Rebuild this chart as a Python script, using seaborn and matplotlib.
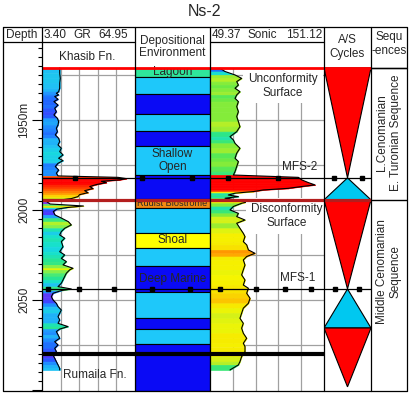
import numpy as np
import matplotlib
matplotlib.use("Agg")
import matplotlib.pyplot as plt
import seaborn as sns
from matplotlib.colors import LinearSegmentedColormap, Normalize
from matplotlib.ticker import MultipleLocator

# ---- data (depth in m) ----
gr_depth = [1921.1, 1924.1, 1926.9, 1929.6, 1932.4, 1934.3, 1935.2, 1936.1, 1937.0, 1938.5,
            1939.8, 1941.7, 1943.5, 1945.4, 1947.2, 1949.1, 1950.9, 1952.8, 1954.6, 1956.5,
            1958.3, 1960.2, 1962.0, 1963.9, 1965.7, 1967.6, 1969.4, 1971.3, 1972.6, 1974.1,
            1975.9, 1977.8, 1979.6, 1981.1, 1981.9, 1982.6, 1983.3, 1984.1, 1984.8, 1985.9,
            1987.0, 1988.1, 1989.3, 1990.4, 1991.5, 1992.6, 1993.7, 1994.4, 1995.4, 1996.7,
            1997.8, 1998.7, 1999.6, 2000.9, 2002.8, 2004.6, 2006.5, 2008.3, 2010.2, 2012.0,
            2013.9, 2015.7, 2017.6, 2020.4, 2023.2, 2025.0, 2026.9, 2028.7, 2030.5, 2032.4,
            2033.3, 2035.2, 2037.0, 2038.9, 2040.7, 2042.6, 2043.9, 2044.8, 2046.3, 2048.2,
            2050.0, 2051.9, 2053.7, 2055.6, 2057.4, 2059.3, 2061.1, 2063.0, 2064.8, 2066.2,
            2067.6, 2069.4, 2071.3, 2073.2, 2075.0, 2076.9, 2078.7, 2080.6, 2082.4, 2084.3,
            2086.1, 2088.0, 2088.9]
gr_value = [15.1, 15.1, 15.5, 15.1, 15.1, 14.4, 12.9, 14.4, 11.8, 14.0,
            11.3, 14.0, 11.8, 12.9, 11.3, 13.6, 14.4, 14.0, 12.9, 13.6,
            12.2, 14.4, 15.1, 14.0, 16.2, 15.1, 17.3, 14.4, 17.3, 14.0,
            12.2, 14.4, 12.9, 14.0, 53.7, 59.2, 54.8, 42.7, 46.0, 39.4,
            35.0, 37.2, 31.6, 33.9, 28.3, 27.2, 22.8, 16.2, 6.5, 8.7,
            30.8, 19.7, 13.1, 10.9, 12.0, 16.4, 20.8, 22.8, 18.4, 16.2,
            15.1, 18.4, 16.2, 17.3, 15.1, 18.4, 16.2, 19.5, 17.3, 23.9,
            21.7, 19.5, 18.4, 17.3, 16.2, 14.0, 22.8, 16.2, 10.7, 9.6,
            10.7, 12.9, 14.0, 16.2, 15.1, 14.0, 15.1, 14.0, 20.6, 15.1,
            12.9, 14.0, 15.1, 11.8, 14.0, 11.8, 12.9, 10.7, 11.8, 12.9,
            14.0, 15.1, 15.1]

sonic_depth = [1921.3, 1923.1, 1925.0, 1926.9, 1928.7, 1930.6, 1932.4, 1934.3, 1936.1, 1938.0,
               1939.8, 1942.6, 1945.4, 1948.1, 1950.9, 1953.7, 1956.5, 1959.3, 1961.1, 1963.0,
               1965.7, 1968.5, 1971.3, 1973.1, 1975.9, 1978.7, 1980.6, 1981.9, 1983.3, 1984.8,
               1986.1, 1987.0, 1988.0, 1988.9, 1989.8, 1990.7, 1991.7, 1992.6, 1993.5, 1995.4,
               1996.3, 1998.1, 2000.0, 2001.9, 2003.7, 2005.6, 2007.4, 2010.2, 2013.0, 2014.8,
               2017.6, 2019.4, 2022.2, 2024.1, 2025.9, 2027.8, 2030.6, 2033.3, 2036.1, 2038.9,
               2041.7, 2043.5, 2046.3, 2049.1, 2051.9, 2054.6, 2057.4, 2060.2, 2063.0, 2065.7,
               2068.5, 2071.3, 2074.1, 2075.9, 2078.7, 2081.5, 2084.3, 2086.1, 2088.9]
sonic_value = [58.3, 62.8, 71.7, 77.6, 73.2, 74.7, 71.7, 76.1, 73.2, 71.7,
               74.7, 73.2, 74.7, 73.2, 74.7, 76.1, 73.2, 67.2, 70.2, 71.7,
               76.1, 73.2, 71.7, 74.7, 73.2, 71.7, 70.2, 128.2, 131.2, 137.1,
               143.1, 131.2, 119.3, 97.0, 88.0, 71.7, 65.7, 74.7, 62.8, 83.6,
               77.6, 70.2, 67.2, 74.7, 73.2, 80.6, 73.2, 76.1, 79.1, 80.6,
               79.1, 82.1, 83.6, 89.5, 82.1, 79.1, 80.6, 79.1, 77.6, 80.6,
               79.1, 83.6, 82.1, 85.1, 83.6, 79.1, 77.6, 76.1, 79.1, 77.6,
               79.1, 82.1, 79.1, 80.6, 80.6, 77.6, 76.1, 74.7, 67.2]

GR_MIN, GR_MAX = 3.40, 64.95
SONIC_MIN, SONIC_MAX = 49.37, 151.12

# depositional environment column
env_top = [1921.1, 1926.1, 1935.6, 1946.7, 1956.1, 1964.4, 1980.6, 1993.9, 1998.9,
           2012.8, 2021.1, 2031.1, 2045.6, 2060.0, 2066.1, 2074.4]
env_base = env_top[1:] + [2100.6]
env_facies = ['lagoon', 'shallow', 'deep', 'shallow', 'deep', 'shallow', 'deep', 'rudist',
              'shallow', 'shoal', 'shallow', 'deep', 'shallow', 'deep', 'shallow', 'deep']
env_label = ['Lagoon', '', '', '', '', 'Shallow\nOpen', '', 'Rudist Biostrome',
             '', 'Shoal', '', 'Deep Marine', '', '', '', '']
facies_colors = {'lagoon': '#2fe69b', 'shallow': '#1ec8fa', 'deep': '#0a0af5',
                 'rudist': '#f28a12', 'shoal': '#ffff00'}

# A/S cycles
as_top = [1921.1, 1982.2, 1994.4, 2043.9, 2065.6]
as_base = [1982.2, 1994.4, 2043.9, 2065.6, 2098.3]
as_phase = ['fall', 'rise', 'fall', 'rise', 'fall']

# surfaces
UNCONFORMITY = 1921.1
MFS2 = 1982.2
DISCONFORMITY = 1994.4
MFS1 = 2043.9
RUMAILA_TOP = 2080.0

seq_bounds = [1921.1, 1994.4, 2100.6]
seq_names = ['L.Cenomanian\nE. Turonian Sequence', 'Middle Cenomanian\nSequence']
seq_label_depth = [1957.0, 2034.0]

depth_marks = [1950, 2000, 2050]
depth_marks_text = ['1950m', '2000', '2050']
grid_depths = [1925, 1950, 1975, 2000, 2025, 2050, 2075]

DEPTH_TOP, DEPTH_BASE = 1906.7, 2100.6

# ---- figure ----
W, H = 410, 395
sns.set_theme(style='white')
plt.rcParams['font.family'] = ['Liberation Sans', 'DejaVu Sans']
fig = plt.figure(figsize=(W / 100, H / 100), dpi=100)
fig.patch.set_facecolor('white')

# column edges in pixels
X_DEPTH, X_GR, X_ENV, X_SON, X_AS, X_SEQ, X_END = 3, 42, 135, 210, 324, 371, 407
Y_TOP, Y_SCALE, Y_HEAD, Y_BOT = 27, 42, 68, 391


def track(x0, x1, zorder=1):
    ax = fig.add_axes([x0 / W, 1 - Y_BOT / H, (x1 - x0) / W, (Y_BOT - Y_SCALE) / H], zorder=zorder)
    ax.set_ylim(DEPTH_BASE, DEPTH_TOP)
    ax.patch.set_alpha(0)
    for s in ax.spines.values():
        s.set_visible(False)
    return ax


def make_cmap(stops, lo, hi):
    return LinearSegmentedColormap.from_list(
        'log', [((v - lo) / (hi - lo), c) for v, c in stops]), Normalize(lo, hi)


gr_cmap, gr_norm = make_cmap([(8, '#7d3cf0'), (11.5, '#4a3cff'), (12.5, '#2060ff'), (13.5, '#1e90ff'),
                              (15, '#20c0f5'), (16.5, '#14e0d8'), (18, '#28e68c'), (20.5, '#7ef050'),
                              (23, '#e8f500'), (28, '#ffd000'), (33, '#ff7800'), (39, '#ff0000')], 8, 39)
son_cmap, son_norm = make_cmap([(58, '#2828ff'), (62, '#14a0ff'), (66, '#14dcf0'), (70, '#28e68c'),
                                (73, '#64ea46'), (76, '#c8f020'), (79, '#f5f500'), (83, '#f8e000'),
                                (85.5, '#ffb000'), (89, '#ff6000'), (95, '#ff0000')], 58, 95)


def log_track(ax, depth, value, lo, hi, cmap, norm):
    ax.set_xlim(lo, hi)
    xs = np.linspace(lo, hi, 6)[1:-1]
    ax.vlines(xs, UNCONFORMITY, DEPTH_BASE, color='#a0a0a0', lw=0.9, zorder=1)
    ax.hlines(grid_depths, lo, hi, color='#a0a0a0', lw=0.9, zorder=1)
    for i in range(len(depth) - 1):
        c = cmap(norm((value[i] + value[i + 1]) / 2))
        ax.fill_betweenx(depth[i:i + 2], lo, value[i:i + 2], color=c, lw=0.5, zorder=2)
    sns.lineplot(x=value, y=depth, orient='y', sort=False, estimator=None,
                 color='black', lw=0.8, ax=ax, zorder=3)
    ax.set_xlabel('')
    ax.set_ylabel('')
    ax.set_xticks([])
    ax.set_yticks([])
    ax.set_ylim(DEPTH_BASE, DEPTH_TOP)


# depth track
ax_d = track(X_DEPTH, X_GR)
ax_d.set_xlim(0, 1)
ax_d.yaxis.set_major_locator(MultipleLocator(50))
ax_d.yaxis.set_minor_locator(MultipleLocator(5))
ax_d.tick_params(axis='y', which='both', direction='in', right=True, left=False,
                 labelleft=False, labelright=False, color='black', width=0.8)
ax_d.tick_params(axis='y', which='major', length=7.5)
ax_d.tick_params(axis='y', which='minor', length=3)
ax_d.set_xticks([])
for d, t in zip(depth_marks, depth_marks_text):
    ax_d.text(0.54, d, t, rotation=90, ha='center', va='center', fontsize=8.5)
ax_d.set_ylim(DEPTH_BASE, DEPTH_TOP)

# GR track
ax_gr = track(X_GR, X_ENV)
log_track(ax_gr, gr_depth, gr_value, GR_MIN, GR_MAX, gr_cmap, gr_norm)
ax_gr.text(0.49, 1915.0, 'Khasib Fn.', transform=ax_gr.get_yaxis_transform(), ha='center',
           va='center', fontsize=8.5)
ax_gr.text(0.57, 2091.5, 'Rumaila Fn.', transform=ax_gr.get_yaxis_transform(), ha='center',
           va='center', fontsize=8.5)

# environment track
ax_env = track(X_ENV, X_SON)
ax_env.set_xlim(0, 1)
ax_env.barh(env_top, 1, height=np.subtract(env_base, env_top), left=0, align='edge',
            color=[facies_colors[f] for f in env_facies], edgecolor='black', lw=0.8)
for t, b, lab in zip(env_top, env_base, env_label):
    if lab:
        fs = 6.6 if lab.startswith('Rudist') else 8.5
        ax_env.text(0.5, (t + b) / 2, lab, ha='center', va='center', fontsize=fs, linespacing=1.2)
ax_env.set_xticks([])
ax_env.set_yticks([])
ax_env.set_ylim(DEPTH_BASE, DEPTH_TOP)

# sonic track
ax_s = track(X_SON, X_AS)
log_track(ax_s, sonic_depth, sonic_value, SONIC_MIN, SONIC_MAX, son_cmap, son_norm)
box = dict(facecolor='white', edgecolor='none', pad=3.5)
tr = ax_s.get_yaxis_transform()
ax_s.text(0.64, 1931.0, 'Unconformity\nSurface', transform=tr, ha='center', va='center',
          fontsize=8.5, bbox=box, zorder=4)
ax_s.text(0.67, 2003.3, 'Disconformity\nSurface', transform=tr, ha='center', va='center',
          fontsize=8.5, bbox=box, zorder=4)
ax_s.text(0.79, MFS2 - 2.6, 'MFS-2', transform=tr, ha='center', va='bottom', fontsize=8.5, zorder=4)
ax_s.text(0.77, MFS1 - 2.6, 'MFS-1', transform=tr, ha='center', va='bottom', fontsize=8.5, zorder=4)

# A/S cycles track
ax_as = track(X_AS, X_SEQ)
ax_as.set_xlim(0, 1)
for t, b, ph in zip(as_top, as_base, as_phase):
    if ph == 'fall':
        ax_as.fill([0, 1, 0.5], [t, t, b], color='#ff0000', ec='black', lw=0.8)
    else:
        ax_as.fill([0.5, 1, 0], [t, b, b], color='#00c8f0', ec='black', lw=0.8)
ax_as.set_xticks([])
ax_as.set_yticks([])
ax_as.set_ylim(DEPTH_BASE, DEPTH_TOP)

# sequences track
ax_q = track(X_SEQ, X_END)
ax_q.set_xlim(0, 1)
ax_q.hlines(seq_bounds[:-1], 0, 1, color='black', lw=1)
for name, d in zip(seq_names, seq_label_depth):
    ax_q.text(0.5, d, name, rotation=90, ha='center', va='center', fontsize=8.5, linespacing=1.15)
ax_q.set_xticks([])
ax_q.set_yticks([])
ax_q.set_ylim(DEPTH_BASE, DEPTH_TOP)

# surfaces drawn across the tracks
ax_o = track(X_GR, X_SEQ, zorder=5)
ax_o.set_xlim(X_GR, X_SEQ)
ax_o.set_xticks([])
ax_o.set_yticks([])
ax_o.hlines(UNCONFORMITY, X_GR, X_SEQ, color='#ff0000', lw=2)
ax_o.hlines(DISCONFORMITY, X_GR, X_SEQ, color='#b41e1e', lw=2.3)
ax_o.hlines(RUMAILA_TOP, X_GR, X_AS, color='black', lw=3)
mfs2_dots = [75, 142, 192, 228, 278, 334, 362]
mfs1_dots = [48, 79, 114, 152, 190, 220, 256, 285, 311, 335, 359]
for d, dots in [(MFS2, mfs2_dots), (MFS1, mfs1_dots)]:
    ax_o.hlines(d, X_GR, X_SEQ, color='black', lw=0.9)
    ax_o.plot(dots, [d] * len(dots), 's', ms=2.3, color='black')
ax_o.set_ylim(DEPTH_BASE, DEPTH_TOP)

# header / frame
cv = fig.add_axes([0, 0, 1, 1], zorder=10)
cv.set_xlim(0, W)
cv.set_ylim(H, 0)
cv.set_axis_off()
cv.patch.set_alpha(0)
lk = dict(color='black', lw=0.9)
cv.plot([X_DEPTH, X_END, X_END, X_DEPTH, X_DEPTH], [Y_TOP, Y_TOP, Y_BOT, Y_BOT, Y_TOP], **lk)
for x in [X_GR, X_ENV, X_SON, X_AS, X_SEQ]:
    cv.plot([x, x], [Y_TOP, Y_BOT], **lk)
cv.plot([X_DEPTH, X_ENV], [Y_SCALE, Y_SCALE], **lk)
cv.plot([X_SON, X_AS], [Y_SCALE, Y_SCALE], **lk)
cv.plot([X_SEQ, X_END], [Y_HEAD, Y_HEAD], **lk)

fs = 8.5
cv.text(205, 11, 'Ns-2', ha='center', va='center', fontsize=11.5)
cv.text(22, 35, 'Depth', ha='center', va='center', fontsize=fs)
cv.text(44, 35, f'{GR_MIN:.2f}', ha='left', va='center', fontsize=fs)
cv.text(82, 35, 'GR', ha='center', va='center', fontsize=fs)
cv.text(128, 35, f'{GR_MAX:.2f}', ha='right', va='center', fontsize=fs)
cv.text(172, 47, 'Depositional\nEnvironment', ha='center', va='center', fontsize=fs, linespacing=1.1)
cv.text(212, 35, f'{SONIC_MIN:.2f}', ha='left', va='center', fontsize=fs)
cv.text(262, 35, 'Sonic', ha='center', va='center', fontsize=fs)
cv.text(322, 35, f'{SONIC_MAX:.2f}', ha='right', va='center', fontsize=fs)
cv.text(347, 47, 'A/S\nCycles', ha='center', va='center', fontsize=fs, linespacing=1.15)
cv.text(389, 44, 'Sequ\n-ences', ha='center', va='center', fontsize=fs, linespacing=1.15)

fig.savefig('out.png', dpi=100, facecolor='white')
